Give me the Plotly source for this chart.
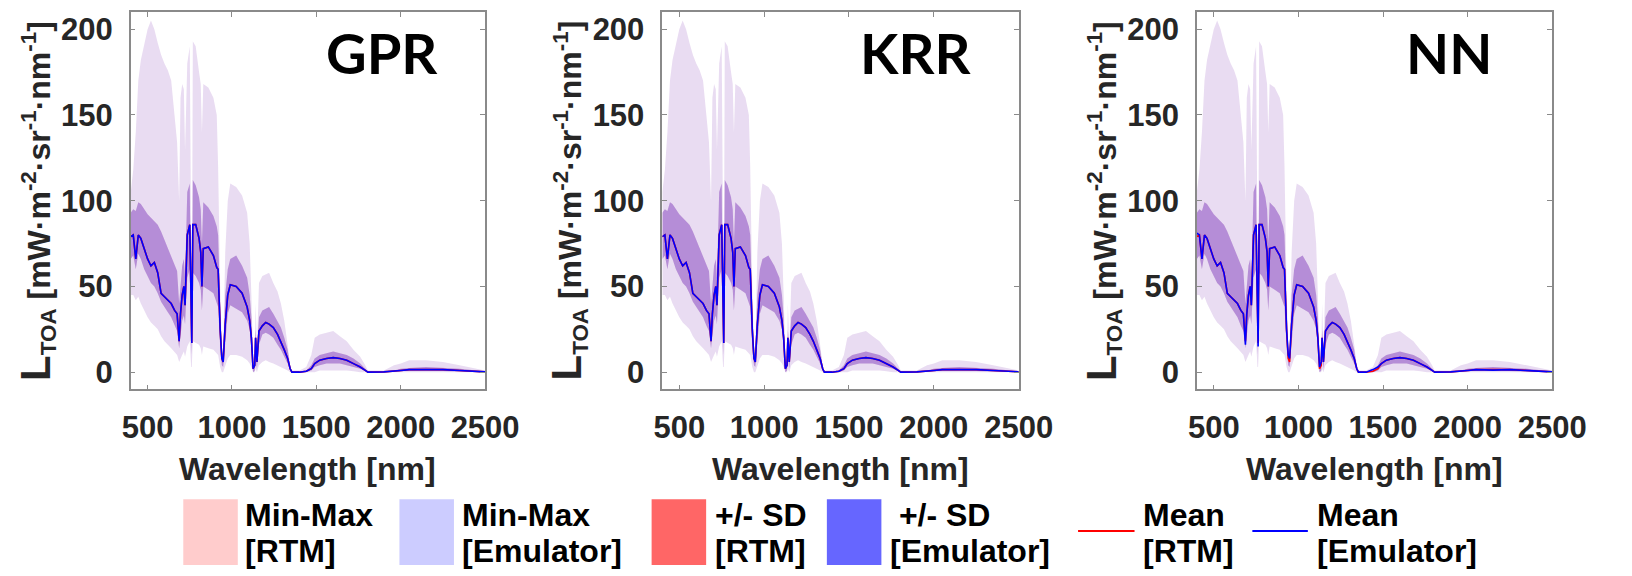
import plotly.graph_objects as go

# ---------------------------------------------------------------------------
# Spectral data: top-of-atmosphere radiance statistics [mW m-2 sr-1 nm-1]
# ---------------------------------------------------------------------------
wavelength = [400, 415, 430, 445, 460, 480, 500, 520, 540, 560, 580, 600, 620, 640,
              660, 675, 687, 695, 705, 715, 722, 735, 750, 758, 762, 768, 785, 805,
              815, 822, 830, 860, 890, 910, 918, 930, 940, 948, 960, 975, 990, 1025,
              1060, 1090, 1105, 1115, 1125, 1135, 1140, 1148, 1160, 1180, 1200, 1220,
              1245, 1270, 1290, 1310, 1330, 1345, 1355, 1400, 1440, 1470, 1490, 1520,
              1560, 1600, 1640, 1680, 1720, 1760, 1790, 1805, 1900, 1960, 2000, 2050,
              2150, 2250, 2350, 2450, 2500]

rtm_mean = [79, 80, 66, 80, 78, 72, 66, 62, 64, 58, 46, 44, 42, 40,
            36, 34, 18, 34, 45, 50, 39, 80, 86, 17, 17, 86, 86, 78,
            70, 50, 72, 73, 68, 61, 60, 25, 8, 6, 28, 45, 51, 50,
            46, 38, 30, 20, 2, 4, 20, 6, 24, 27, 29, 28,
            26, 22, 18, 13, 8, 2, 0, 0, 0.5, 2, 5, 7,
            8, 8.5, 8, 7, 5, 3, 1, 0, 0.2, 0.5, 1, 1.5,
            1.7, 1.5, 1, 0.5, 0.2]

rtm_sd_lo = [66, 68, 60, 69, 66, 60, 56, 52, 50, 46, 41, 38, 35, 32,
             27, 24, 14, 22, 30, 33, 28, 55, 60, 10, 10, 58, 56, 52,
             48, 36, 50, 48, 46, 40, 38, 15, 4, 3, 18, 34, 39, 37,
             35, 30, 25, 14, 0, 1, 10, 2, 16, 22, 23, 22,
             20, 16, 13, 9, 5, 1, 0, 0, 0, 1, 3, 4,
             5, 5, 5, 4, 3, 2, 0.5, 0, 0, 0, 0.5, 0.8,
             1, 0.8, 0.5, 0.2, 0]

rtm_sd_hi = [93, 95, 94, 99, 98, 95, 92, 90, 88, 86, 82, 77, 72, 67,
             62, 59, 40, 50, 62, 66, 55, 105, 110, 22, 22, 112, 109, 102,
             95, 75, 99, 96, 91, 85, 80, 40, 12, 10, 45, 60, 66, 68,
             62, 55, 45, 32, 5, 8, 25, 12, 32, 36, 37, 38,
             34, 30, 26, 20, 13, 3, 0.5, 0.5, 1, 4, 8, 10,
             11, 12, 11, 10, 8, 5, 2, 0.5, 0.5, 1, 2, 2.5,
             3, 2.5, 2, 1, 0.5]

rtm_min = [45, 45, 42, 44, 40, 36, 32, 29, 27, 25, 21, 18, 16, 14,
           12, 10, 6, 8, 10, 12, 9, 15, 18, 3, 3, 18, 17, 16,
           14, 10, 15, 14, 13, 11, 10, 3, 0, 0, 4, 8, 10, 10,
           9, 7, 5, 3, 0, 0, 2, 0, 4, 6, 7, 6,
           5, 4, 3, 2, 1, 0, 0, 0, 0, 0, 0, 1,
           1, 1, 1, 1, 0.5, 0, 0, 0, 0, 0, 0, 0,
           0, 0, 0, 0, 0]

rtm_max = [105, 118, 140, 170, 182, 192, 200, 205, 200, 192, 185, 180, 176, 170,
           150, 134, 100, 160, 168, 165, 130, 180, 190, 25, 25, 193, 190, 175,
           168, 140, 168, 166, 160, 150, 120, 50, 15, 12, 70, 100, 110, 108,
           103, 93, 75, 45, 8, 10, 40, 15, 52, 56, 57, 58,
           52, 47, 40, 30, 16, 4, 1, 1, 3, 10, 20, 22,
           23, 24, 21, 18, 13, 9, 4, 1, 1, 4, 5, 7,
           7, 6, 4, 2, 1]

# NN emulator mean departs slightly from the RTM mean in a few bands
nn_mean = [81, 80, 66, 80, 78, 72, 66, 62, 64, 58, 46, 44, 42, 40,
           36, 34, 16, 34, 45, 50, 39, 80, 86, 15, 15, 86, 86, 78,
           70, 50, 72, 73, 68, 61, 60, 25, 10, 8, 28, 45, 51, 50,
           46, 38, 30, 20, 3, 6, 20, 6, 24, 27, 29, 28,
           26, 22, 18, 13, 8, 2, 0, 0, 1.5, 3, 5, 7,
           8, 8.5, 8, 7, 5, 3, 1, 0, 0.2, 0.5, 1, 1.5,
           1.2, 1.5, 1, 0.5, 0.2]

models = ["GPR", "KRR", "NN"]
emulator_mean = {"GPR": rtm_mean, "KRR": rtm_mean, "NN": nn_mean}

x_ticks = [500, 1000, 1500, 2000, 2500]
y_ticks = [0, 50, 100, 150, 200]

# ---------------------------------------------------------------------------
W, H = 1632, 576
panels_px = [(125, 489), (671, 1037), (1220, 1585)]
top_px, bottom_px = 12, 390

RED_MINMAX = "rgba(255,0,0,0.056)"
BLUE_MINMAX = "rgba(0,0,255,0.086)"
RED_SD = "rgba(255,0,0,0.16)"
BLUE_SD = "rgba(0,0,255,0.23)"

TEXT_FONT = "Liberation Sans, Arial, sans-serif"
TICK_FONT = dict(family=TEXT_FONT, size=31, color="#262626", weight="bold")


def px_x(p):
    return p / W


def px_y(p):
    return 1 - p / H


def band(lo, hi, color, xa, ya):
    return go.Scatter(
        x=wavelength + wavelength[::-1], y=hi + lo[::-1],
        fill="toself", fillcolor=color, line=dict(width=0),
        mode="lines", hoverinfo="skip", showlegend=False,
        xaxis=xa, yaxis=ya)


def label(text, x, y, size, color="black", family=TEXT_FONT, **kw):
    return dict(text=text, x=px_x(x), y=px_y(y), xref="paper", yref="paper",
                showarrow=False, yanchor="middle",
                font=dict(family=family, size=size, color=color, weight="bold"),
                **kw)


fig = go.Figure()
layout = dict(
    width=W, height=H, margin=dict(l=0, r=0, t=0, b=0),
    paper_bgcolor="white", plot_bgcolor="white", showlegend=False,
)

annotations = []
shapes = []

for i, (model, (x0, x1)) in enumerate(zip(models, panels_px)):
    suffix = "" if i == 0 else str(i + 1)
    xa, ya = "x" + suffix, "y" + suffix

    fig.add_trace(band(rtm_min, rtm_max, RED_MINMAX, xa, ya))
    fig.add_trace(band(rtm_min, rtm_max, BLUE_MINMAX, xa, ya))
    fig.add_trace(band(rtm_sd_lo, rtm_sd_hi, RED_SD, xa, ya))
    fig.add_trace(band(rtm_sd_lo, rtm_sd_hi, BLUE_SD, xa, ya))
    fig.add_trace(go.Scatter(x=wavelength, y=rtm_mean, mode="lines",
                             line=dict(color="#ff0000", width=1.6),
                             showlegend=False, xaxis=xa, yaxis=ya))
    fig.add_trace(go.Scatter(x=wavelength, y=emulator_mean[model], mode="lines",
                             line=dict(color="#0000ff", width=1.6),
                             showlegend=False, xaxis=xa, yaxis=ya))

    common = dict(showline=True, mirror="ticks", linecolor="#8a8a8a", linewidth=1.5,
                  ticks="inside", ticklen=5, tickwidth=1.2, tickcolor="#8a8a8a",
                  showgrid=False, zeroline=False, tickfont=TICK_FONT,
                  ticklabelstandoff=10)
    layout["xaxis" + suffix] = dict(
        common, domain=[px_x(x0), px_x(x1)], range=[400, 2500],
        tickvals=x_ticks, ticktext=[str(v) for v in x_ticks],
        anchor=ya)
    layout["yaxis" + suffix] = dict(
        common, domain=[px_y(bottom_px), px_y(top_px)], range=[-10, 210],
        tickvals=y_ticks, ticktext=[str(v) for v in y_ticks],
        anchor=xa)

    # model name inside the panel
    annotations.append(label(model, x1 - 106, 53, 56, family="Lato, sans-serif",
                             xanchor="center"))

    # axis titles
    annotations.append(label("Wavelength [nm]", (x0 + x1) / 2, 470, 32,
                             color="#262626", xanchor="center"))
    annotations.append(label(
        "<span style='font-size:42px'>L</span><sub>TOA</sub> "
        "[mW·m<sup>-2</sup>·sr<sup>-1</sup>·nm<sup>-1</sup>]",
        x0 - 97, 201, 32, color="#262626", xanchor="center", textangle=-90))

# ---------------------------------------------------------------------------
# Legend, drawn as patches and line samples with two-line labels
# ---------------------------------------------------------------------------
legend_patches = [
    ((179, 235), "#ffcccc", 240, "Min-Max", "[RTM]"),
    ((401, 457), "#ccccff", 463, "Min-Max", "[Emulator]"),
    ((660, 716), "#ff6666", 723, "+/- SD", "[RTM]"),
    ((840, 896), "#6666ff", 903, " +/- SD", "[Emulator]"),
]
legend_lines = [
    ((1098, 1156), "#ff0000", 1163, "Mean", "[RTM]"),
    ((1277, 1334), "#0000ff", 1341, "Mean", "[Emulator]"),
]

for (a, b), color, tx, l1, l2 in legend_patches:
    shapes.append(dict(type="rect", xref="paper", yref="paper",
                       x0=px_x(a), x1=px_x(b), y0=px_y(566), y1=px_y(500),
                       fillcolor=color, line=dict(width=0)))
for (a, b), color, tx, l1, l2 in legend_lines:
    shapes.append(dict(type="line", xref="paper", yref="paper",
                       x0=px_x(a), x1=px_x(b), y0=px_y(532), y1=px_y(532),
                       line=dict(color=color, width=2)))

for _, _, tx, l1, l2 in legend_patches + legend_lines:
    for text, yc in ((l1, 516), (l2, 552)):
        annotations.append(label(text.replace(" ", "&nbsp;"), tx, yc, 32,
                                 xanchor="left"))

layout["annotations"] = annotations
layout["shapes"] = shapes
fig.update_layout(**layout)

fig.write_html("out.html")
